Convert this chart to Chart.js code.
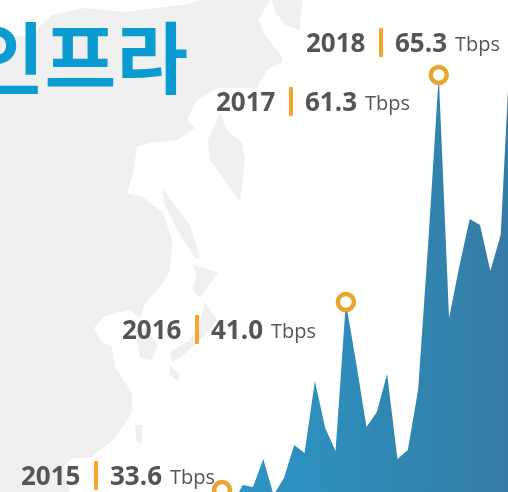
<!DOCTYPE html>
<html>
<head>
<meta charset="utf-8">
<script src="https://cdn.jsdelivr.net/npm/chart.js@4"></script>
<style>
  html, body { margin: 0; padding: 0; background: #fff; }
  body { width: 508px; height: 492px; overflow: hidden; position: relative; font-family: "Open Sans", sans-serif; }
  #map { position: absolute; left: 0; top: 0; }
  #title { position: absolute; right: 320px; top: -1px; font: 700 78px "Noto Sans CJK KR"; color: #0a9bd0; white-space: nowrap; line-height: 110px; }
  #chartBox { position: absolute; left: 0; top: 0; width: 540px; height: 530px; }
  .peak { position: absolute; height: 36px; line-height: 36px; color: #555; white-space: nowrap; }
  .peak span { position: absolute; top: 0; }
  .year, .val { font-size: 26px; font-weight: 700; }
  .bar { left: 73px; top: 4px !important; width: 4px; height: 29px; background: #f9a532; }
  .val { left: 89px; }
  .unit { left: 149px; font-size: 20px; top: 2px !important; }
  .p2015 { left: 21px; top: 457px; }
  .p2016 { left: 122px; top: 311px; }
  .p2017 { left: 216px; top: 83px; }
  .p2018 { left: 306px; top: 24px; }
</style>
</head>
<body>
<svg id="map" width="508" height="492" fill="#f0f0f0">
  <polygon points="0,38 30,35 52,15 85,8 125,12 190,4 200,0 270,0 258,20 266,36 282,57 282,62 267,70 257,88 218,88 197,100 187,120 195,128 177,140 150,143 137,147 133,173 127,193 143,197 163,213 172,240 170,270 160,287 145,303 140,318 130,310 105,316 94,328 100,340 112,347 115,367 132,393 132,413 113,440 90,458 72,458 63,467 70,492 0,492"/>
  <polygon points="272,0 302,0 300,30 285,25 275,12"/>
  <polygon points="220,113 227,130 242,143 245,160 240,202 228,185 210,160 208,140"/>
  <polygon points="162,188 190,225 200,258 195,258 180,235 165,205"/>
  <polygon points="193,265 218,272 200,298 192,290 197,275"/>
  <polygon points="205,302 217,320 205,335 180,358 172,362 170,352 190,340 200,320"/>
  <polygon points="170,365 180,375 178,382 170,375"/>
  <polygon points="135,330 145,328 158,345 152,360 140,358"/>
  <polygon points="135,425 142,425 142,445 136,440"/>
</svg>
<div id="title">인프라</div>
<div id="chartBox"><canvas id="chart"></canvas></div>
<script>
// one sample per step along the x axis, level (axis is hidden)
const samples = ['1','2','3','4','5','6','7','8','9','10','11','12','13','14','15','16','17','18','19','20','21','22','23','24','25','26','27','28','29']
const levels = [2, -13, 7, 5, 33, -3, 14, 47, 39, 111, 64, 41, 190, 129, 65, 80, 118, 33, 42, 102, 252, 417, 174, 226, 273, 267, 221, 257, 462]
const ringIndexes = [0, 12, 21]

const peakYears = ['2015', '2016', '2017', '2018']
const peakValues = ['33.6', '41.0', '61.3', '65.3']
const peakUnit = 'Tbps'

peakYears.forEach((year, i) => {
    const el = document.createElement('div')
    el.className = `peak p${year}`
    el.innerHTML = `<span class="year">${year}</span><span class="bar"></span><span class="val">${peakValues[i]}</span><span class="unit">${peakUnit}</span>`
    document.body.appendChild(el)
})

new Chart(document.getElementById('chart'), {
    type: 'line',
    data: {
        labels: samples,
        datasets: [{
            data: levels,
            fill: 'start',
            tension: 0,
            borderWidth: 0,
            clip: false,
            backgroundColor: (context) => {
                const area = context.chart.chartArea
                if (!area) return '#2b93c3'
                const gradient = context.chart.ctx.createLinearGradient(area.left, 0, area.right, 0)
                gradient.addColorStop(0, '#2b97c8')
                gradient.addColorStop(1, '#357ca5')
                return gradient
            },
            pointRadius: (context) => ringIndexes.includes(context.dataIndex) ? 8 : 0,
            pointBorderWidth: 4.5,
            pointBorderColor: '#e9a52c',
            pointBackgroundColor: '#fff'
        }]
    },
    options: {
        responsive: true,
        maintainAspectRatio: false,
        animation: false,
        layout: {autoPadding: false, padding: {left: 222, right: 29, top: 0, bottom: 0}},
        plugins: {legend: {display: false}, tooltip: {enabled: false}},
        scales: {
            x: {display: false},
            y: {display: false, min: -38, max: 492}
        }
    }
})
</script>
</body>
</html>
